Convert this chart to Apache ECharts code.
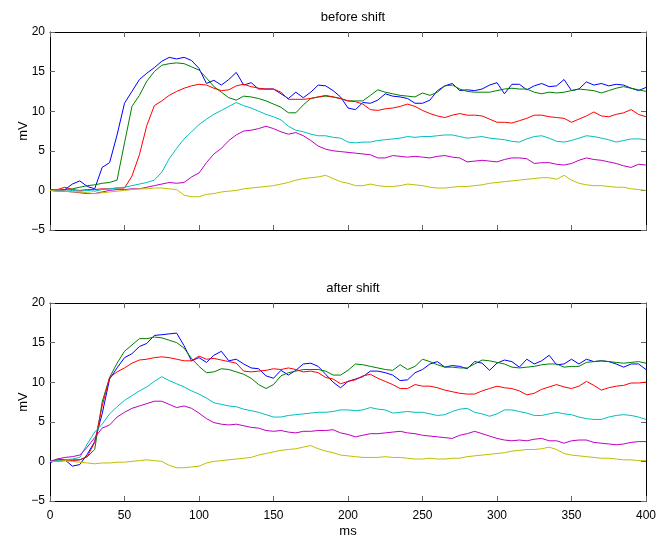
<!DOCTYPE html>
<html>
<head>
<meta charset="utf-8">
<script src="https://cdn.jsdelivr.net/npm/echarts@6/dist/echarts.min.js"></script>
<style>
  html, body { margin: 0; padding: 0; background: #fff; }
  #chart { width: 657px; height: 539px; }
</style>
</head>
<body>
<div id="chart"></div>
<script>
// sample times (ms)
const times = [0,5,10,15,20,25,30,35,40,45,50,55,60,65,70,75,80,85,90,95,
  100,105,110,115,120,125,130,135,140,145,150,155,160,165,170,175,180,185,190,195,
  200,205,210,215,220,225,230,235,240,245,250,255,260,265,270,275,280,285,290,295,
  300,305,310,315,320,325,330,335,340,345,350,355,360,365,370,375,380,385,390,395,400]

// before shift (mV)
const blueBefore = [0.1,0.0,0.1,0.8,1.2,0.5,0.2,2.9,3.5,7.0, 11.0,12.5,14.0,14.8,15.5,16.3,16.8,16.6,16.8,16.4,
  15.4,13.5,13.9,13.3,14.0,14.9,13.3,13.6,12.8,12.8, 12.8,12.2,11.6,12.4,11.7,12.4,13.3,13.2,12.6,11.8,
  10.4,10.2,11.1,11.0,11.4,12.2,11.9,11.8,11.6,11.0, 11.0,11.4,12.6,13.2,13.5,12.6,12.7,12.6,12.8,13.3,
  13.6,12.2,13.4,13.4,12.7,13.2,13.5,13.1,13.2,14.0, 12.6,12.8,13.7,13.3,13.5,13.2,13.4,13.3,12.9,12.6,13.0]
const greenBefore = [0.0,0.0,0.1,0.2,0.4,0.6,0.7,0.9,1.0,1.3, 6.0,10.6,12.0,13.8,15.0,15.8,16.0,16.1,16.0,15.6,
  15.2,14.2,13.1,12.4,11.7,11.4,11.9,11.8,11.6,11.3, 10.9,10.5,9.8,9.8,10.8,11.6,11.8,11.9,11.8,11.6,
  11.3,11.3,11.3,12.0,12.7,12.4,12.2,12.0,11.9,11.8, 12.3,12.0,12.4,13.2,13.3,12.8,12.5,12.4,12.4,12.4,
  12.6,12.8,12.9,12.8,12.8,12.4,12.2,12.4,12.3,12.4, 12.6,12.8,12.7,12.6,12.3,12.6,12.9,13.1,12.9,12.7,12.5]
const redBefore = [0.0,0.1,0.4,0.1,0.0,0.1,0.1,0.2,0.2,0.3, 0.3,1.8,4.5,8.2,10.7,11.3,12.0,12.5,12.9,13.2,
  13.4,13.3,12.9,12.6,12.7,13.2,13.4,13.1,12.9,12.8, 12.8,12.4,11.5,11.5,11.5,11.6,11.8,12.0,11.8,11.6,
  11.3,11.2,10.9,10.2,10.1,10.3,10.4,10.6,10.9,10.6, 10.1,9.7,9.4,9.2,9.5,9.7,9.5,9.5,9.4,9.0,
  8.6,8.6,8.5,8.8,9.1,9.5,9.5,9.3,9.2,9.1, 8.6,9.0,9.4,9.9,9.4,9.3,9.6,9.8,10.2,9.6,9.3]
const cyanBefore = [0.0,0.0,-0.1,0.0,-0.1,0.0,-0.1,0.1,0.2,0.3, 0.4,0.6,0.8,1.0,1.3,2.3,4.0,5.3,6.5,7.4,
  8.3,9.0,9.6,10.1,10.6,11.1,10.7,10.4,10.0,9.6, 9.3,8.9,8.1,7.6,7.4,7.1,6.9,6.9,6.7,6.6,
  6.1,6.0,6.1,6.1,6.3,6.4,6.5,6.6,6.8,6.7, 6.8,6.8,6.9,7.0,7.0,6.8,6.6,6.7,6.8,6.6,
  6.5,6.4,6.2,6.1,6.5,6.8,6.9,6.6,6.2,6.1, 6.3,6.6,6.9,6.8,6.6,6.4,6.1,6.3,6.5,6.5,6.4]
const magentaBefore = [0.0,-0.1,-0.1,-0.2,-0.3,-0.4,-0.4,-0.2,0.0,0.1, 0.1,0.2,0.2,0.4,0.6,0.8,1.0,0.9,1.0,1.7,
  2.2,3.5,4.6,5.3,6.3,7.0,7.5,7.6,7.8,8.1, 7.8,7.4,7.1,7.3,6.9,6.3,5.6,5.2,5.0,4.9,
  4.8,4.7,4.6,4.5,4.1,4.1,4.4,4.3,4.2,4.3, 4.2,4.1,4.3,4.4,4.2,4.1,3.6,3.7,3.8,3.7,
  3.6,3.9,4.1,4.1,4.0,3.4,3.5,3.5,3.3,3.2, 3.4,3.8,4.1,3.9,3.8,3.6,3.4,3.1,2.9,3.3,3.2]
const yellowBefore = [0.0,-0.1,-0.1,-0.2,-0.2,-0.3,-0.4,-0.3,-0.2,-0.1, 0.0,0.1,0.2,0.2,0.3,0.3,0.2,0.1,-0.6,-0.8,
  -0.8,-0.5,-0.4,-0.2,-0.1,0.0,0.2,0.3,0.4,0.5, 0.6,0.8,1.0,1.3,1.5,1.6,1.7,1.9,1.5,1.1,
  0.9,0.6,0.6,0.8,0.6,0.5,0.5,0.6,0.8,0.7, 0.6,0.4,0.3,0.3,0.4,0.5,0.5,0.6,0.7,0.9,
  1.0,1.1,1.2,1.3,1.4,1.5,1.6,1.6,1.4,1.9, 1.3,0.9,0.7,0.6,0.6,0.5,0.4,0.4,0.2,0.1,0.0]

// after shift (mV)
const blueAfter = [-0.2,0.3,0.2,-0.6,-0.4,0.9,2.5,6.0,10.4,11.8, 13.1,13.6,14.5,14.9,15.9,16.0,16.1,16.2,14.6,12.7,
  13.1,12.5,13.4,13.9,12.7,12.9,12.3,11.8,11.7,10.8, 10.5,11.5,10.9,11.5,12.3,12.4,12.0,11.0,10.0,9.3,
  10.1,10.4,10.7,11.4,11.4,11.2,10.9,10.2,10.3,11.2, 11.6,12.3,12.6,11.9,12.1,12.0,11.7,12.6,12.4,11.5,
  12.4,12.8,12.6,11.9,12.9,12.3,12.7,13.4,12.2,12.3, 12.9,12.3,12.9,12.6,12.7,12.6,12.3,11.9,12.3,12.3,11.6]
const greenAfter = [0.0,0.1,0.2,0.2,0.2,0.6,1.5,7.5,10.6,12.4, 13.9,14.7,15.5,15.5,15.7,15.6,15.3,15.0,14.3,13.0,
  12.0,11.2,11.3,11.7,11.6,11.3,11.0,10.5,9.7,9.2, 9.7,10.8,11.2,11.4,11.6,11.6,11.6,11.4,10.9,10.9,
  11.5,12.3,12.2,12.0,11.8,11.6,11.5,12.2,11.6,12.0, 12.9,12.6,12.2,11.9,11.9,11.8,11.8,12.3,12.8,12.7,
  12.5,12.3,11.9,11.8,11.9,12.0,12.2,12.3,12.3,11.9, 12.0,12.0,12.5,12.6,12.7,12.6,12.5,12.4,12.5,12.6,12.4]
const redAfter = [0.0,0.0,0.1,0.1,0.2,0.6,2.4,7.0,10.6,11.3, 11.8,12.4,12.8,12.9,13.1,13.2,13.1,12.9,12.7,12.7,
  13.3,12.9,13.0,12.8,12.6,12.4,11.4,11.3,11.4,11.5, 11.7,11.6,11.8,11.6,11.3,11.4,11.2,10.6,10.4,9.8,
  10.1,10.3,10.8,11.0,10.5,10.1,9.7,9.2,9.2,9.7, 9.5,9.5,9.3,9.0,8.8,8.6,8.5,8.5,8.9,9.2,
  9.5,9.3,9.2,8.9,8.4,8.6,9.1,9.4,9.7,9.4, 9.2,9.5,10.1,9.6,9.0,9.3,9.5,9.6,9.9,9.9,10.0]
const cyanAfter = [0.0,0.1,0.2,0.3,0.5,2.2,3.7,4.7,6.0,6.9, 7.7,8.3,8.9,9.4,10.1,10.7,10.2,9.8,9.4,8.9,
  8.5,8.0,7.4,7.2,7.0,6.9,6.6,6.4,6.2,5.9, 5.6,5.6,5.8,5.9,6.0,6.1,6.2,6.2,6.3,6.5,
  6.5,6.4,6.5,6.8,6.6,6.5,6.1,6.2,6.3,6.2, 6.2,6.0,5.8,5.9,6.3,6.6,6.7,6.2,6.0,5.7,
  6.0,6.5,6.5,6.3,6.1,5.8,5.8,6.0,6.2,6.0, 5.9,5.6,5.4,5.3,5.3,5.6,5.8,5.9,5.8,5.6,5.3]
const magentaAfter = [0.0,0.3,0.5,0.6,0.8,1.8,3.0,4.2,4.6,5.6, 6.2,6.7,7.0,7.3,7.6,7.6,7.2,6.8,7.0,6.7,
  6.1,5.4,4.9,4.7,4.6,4.7,4.5,4.3,4.2,3.9, 3.8,3.9,3.7,3.6,3.8,3.8,3.9,3.9,4.0,3.6,
  3.4,3.1,3.3,3.5,3.5,3.6,3.7,3.8,3.6,3.5, 3.3,3.2,3.1,3.0,2.9,3.3,3.5,3.8,3.5,3.2,
  2.9,2.7,2.6,2.7,2.6,2.8,2.9,2.6,2.6,2.3, 2.6,2.7,2.7,2.4,2.3,2.2,2.1,2.2,2.4,2.5,2.5]
const yellowAfter = [0.0,0.0,0.1,0.0,-0.1,-0.2,-0.3,-0.2,-0.2,-0.1, -0.1,0.0,0.1,0.2,0.1,0.0,-0.5,-0.8,-0.8,-0.7,
  -0.6,-0.2,0.0,0.1,0.2,0.3,0.4,0.5,0.8,1.0, 1.2,1.4,1.5,1.6,1.8,2.0,1.6,1.3,1.1,0.8,
  0.7,0.6,0.5,0.5,0.5,0.6,0.5,0.5,0.4,0.3, 0.3,0.4,0.3,0.3,0.4,0.4,0.6,0.7,0.8,0.9,
  1.0,1.1,1.3,1.4,1.5,1.5,1.6,1.8,1.5,1.0, 0.8,0.7,0.6,0.5,0.4,0.4,0.3,0.2,0.2,0.1,0.1]

const titles = ['before shift', 'after shift']
const colors = ['#0000ff', '#008000', '#ff0000', '#00bfbf', '#bf00bf', '#bfbf00']
const panels = [
  [blueBefore, greenBefore, redBefore, cyanBefore, magentaBefore, yellowBefore],
  [blueAfter, greenAfter, redAfter, cyanAfter, magentaAfter, yellowAfter],
]

const font = 'Liberation Sans, Arial, sans-serif'
const grids = [
  { left: 50, top: 32, width: 596, height: 198, outerBoundsMode: 'none' },
  { left: 50, top: 303, width: 596, height: 198, outerBoundsMode: 'none' },
]

const tick = { show: true, inside: true, length: 5, lineStyle: { color: '#666' } }
const line = { show: true, lineStyle: { color: '#000', width: 1 } }

function xAxis(gi, pos, labels) {
  return {
    type: 'value', gridIndex: gi, position: pos, min: 0, max: 400, interval: 50,
    axisLine: { ...line, onZero: false }, axisTick: tick, splitLine: { show: false },
    axisLabel: { show: labels, color: '#000', fontSize: 12, fontFamily: font, margin: 9 },
    name: labels ? 'ms' : '', nameLocation: 'middle', nameGap: 24, nameMoveOverlap: false,
    nameTextStyle: { color: '#000', fontSize: 13, fontFamily: font },
  }
}

function yAxis(gi, pos, labels) {
  return {
    type: 'value', gridIndex: gi, position: pos, min: -5, max: 20, interval: 5,
    axisLine: { ...line, onZero: false }, axisTick: tick, splitLine: { show: false },
    axisLabel: {
      show: labels, color: '#000', fontSize: 12, fontFamily: font, margin: 5,
      formatter: (v) => String(v).replace('-', '\u2212'),
    },
    name: labels ? 'mV' : '', nameLocation: 'middle', nameGap: 20, nameMoveOverlap: false,
    nameTextStyle: { color: '#000', fontSize: 13, fontFamily: font },
  }
}

const series = []
panels.forEach((lines, gi) => {
  lines.forEach((vals, i) => {
    series.push({
      type: 'line', xAxisIndex: gi * 2, yAxisIndex: gi * 2,
      data: times.map((t, k) => [t, vals[k]]),
      showSymbol: false, symbol: 'none', silent: true,
      lineStyle: { color: colors[i], width: 1 },
    })
  })
})

const chart = echarts.init(document.getElementById('chart'))
chart.setOption({
  animation: false,
  backgroundColor: '#fff',
  title: titles.map((t, gi) => ({
    text: t, left: 348, top: gi === 0 ? 6 : 277, textAlign: 'center',
    textStyle: { color: '#000', fontSize: 13, fontWeight: 'normal', fontFamily: font },
  })),
  grid: grids,
  xAxis: [xAxis(0, 'bottom', false), xAxis(0, 'top', false), xAxis(1, 'bottom', true), xAxis(1, 'top', false)],
  yAxis: [yAxis(0, 'left', true), yAxis(0, 'right', false), yAxis(1, 'left', true), yAxis(1, 'right', false)],
  series,
})
</script>
</body>
</html>
